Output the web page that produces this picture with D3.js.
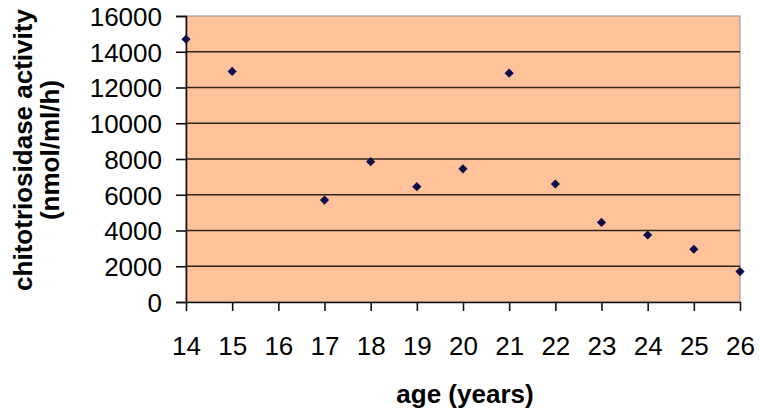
<!DOCTYPE html>
<html>
<head>
<meta charset="utf-8">
<script src="https://cdn.jsdelivr.net/npm/d3@7"></script>
<style>
  body { margin: 0; background: #fff; }
  text { font-family: Arial, "Liberation Sans", sans-serif; }
</style>
</head>
<body>
<div id="chart"></div>
<script>
// data
var ages = [14, 15, 17, 18, 19, 20, 21, 22, 23, 24, 25, 26];
var activity = [14700, 12900, 5700, 7850, 6450, 7450, 12800, 6600, 4450, 3750, 2950, 1700];
var x_ticks = [14, 15, 16, 17, 18, 19, 20, 21, 22, 23, 24, 25, 26];
var y_ticks = [0, 2000, 4000, 6000, 8000, 10000, 12000, 14000, 16000];

var width = 760, height = 416;
var plot = {left: 186, right: 740, top: 16, bottom: 302};

var svg = d3.select("#chart").append("svg")
    .attr("width", width)
    .attr("height", height);

var x = d3.scaleLinear().domain([14, 26]).range([plot.left, plot.right]);
var y = d3.scaleLinear().domain([0, 16000]).range([plot.bottom, plot.top]);

// plot background
svg.append("rect")
    .attr("x", plot.left)
    .attr("y", plot.top)
    .attr("width", plot.right - plot.left)
    .attr("height", plot.bottom - plot.top)
    .attr("fill", "#ffc29a")
    .attr("stroke", "#9a9a9a")
    .attr("stroke-width", 1.2);

// gridlines
svg.append("g")
  .selectAll("line")
  .data(y_ticks.filter(function(d) { return d > 0 && d < 16000; }))
  .enter().append("line")
    .attr("x1", plot.left)
    .attr("x2", plot.right)
    .attr("y1", function(d) { return y(d); })
    .attr("y2", function(d) { return y(d); })
    .attr("stroke", "#33241a")
    .attr("stroke-width", 1.7);

// y axis
var y_axis = svg.append("g")
    .attr("transform", "translate(" + plot.left + ",0)")
    .call(d3.axisLeft(y).tickValues(y_ticks).tickSize(10).tickPadding(14).tickFormat(d3.format("d")));
y_axis.selectAll("text")
    .attr("font-size", 26)
    .attr("fill", "#000")
    .attr("dy", "0.36em");

// x axis
var x_axis = svg.append("g")
    .attr("transform", "translate(0," + plot.bottom + ")")
    .call(d3.axisBottom(x).tickValues(x_ticks).tickSize(9).tickPadding(0).tickSizeOuter(0).tickFormat(d3.format("d")));
x_axis.selectAll("text")
    .attr("font-size", 26)
    .attr("fill", "#000")
    .attr("dy", 0)
    .attr("y", 53);

svg.selectAll(".domain, .tick line")
    .attr("stroke", "#111")
    .attr("stroke-width", 1.6);

// points
var diamond = d3.symbol().type(d3.symbolSquare).size(42);
svg.append("g")
  .selectAll("path")
  .data(ages)
  .enter().append("path")
    .attr("d", diamond)
    .attr("transform", function(d, i) {
        return "translate(" + x(d) + "," + y(activity[i]) + ") rotate(45)";
    })
    .attr("fill", "#0d0b4a");

// titles
svg.append("text")
    .attr("x", (plot.left + plot.right) / 2 + 2)
    .attr("y", 403)
    .attr("text-anchor", "middle")
    .attr("font-size", 26)
    .attr("font-weight", "bold")
    .text("age (years)");

var y_title = svg.append("text")
    .attr("transform", "translate(32,150) rotate(-90)")
    .attr("text-anchor", "middle")
    .attr("font-size", 26)
    .attr("font-weight", "bold");
y_title.append("tspan").attr("x", 0).attr("y", 0).text("chitotriosidase activity");
y_title.append("tspan").attr("x", 0).attr("y", 27).text("(nmol/ml/h)");
</script>
</body>
</html>
